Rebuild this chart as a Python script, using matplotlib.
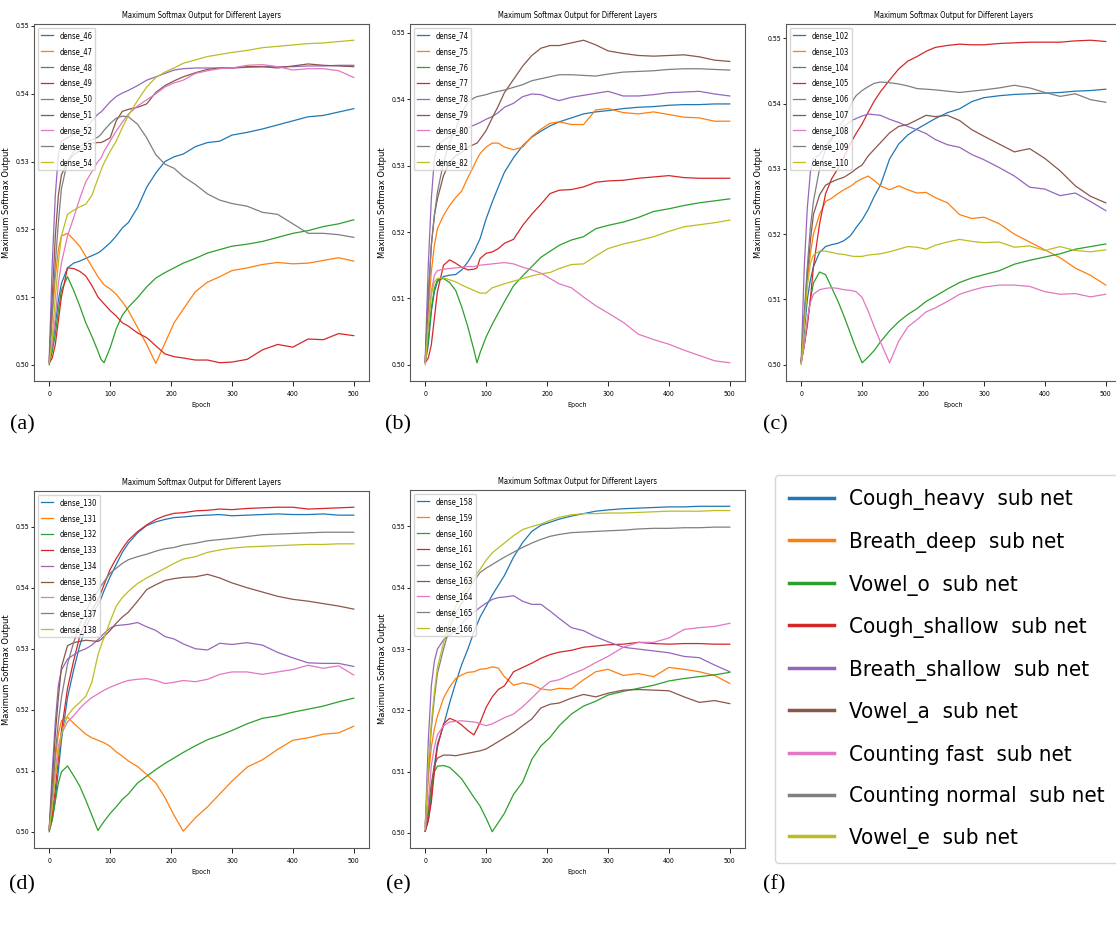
import matplotlib
matplotlib.use('Agg')
import matplotlib.pyplot as plt
from matplotlib import font_manager
from matplotlib.lines import Line2D

# common epoch grid (values at these epochs)
epochs = [0, 5, 10, 15, 20, 30, 40, 50, 60, 70, 80, 85,
          90, 100, 110, 120, 130, 145, 160, 175, 190, 205, 220, 240,
          260, 280, 300, 325, 350, 375, 400, 425, 450, 475, 500]

# ---- panel (a)
d46 = [0.5003, 0.5025, 0.5060, 0.5095, 0.5120, 0.5143, 0.5150, 0.5153, 0.5157, 0.5161, 0.5165, 0.5168,
       0.5172, 0.5180, 0.5190, 0.5202, 0.5210, 0.5232, 0.5262, 0.5283, 0.5300, 0.5307, 0.5311, 0.5322,
       0.5328, 0.5330, 0.5339, 0.5343, 0.5348, 0.5354, 0.5360, 0.5366, 0.5368, 0.5373, 0.5378]
d47 = [0.5005, 0.5070, 0.5130, 0.5170, 0.5190, 0.5194, 0.5185, 0.5175, 0.5160, 0.5145, 0.5130, 0.5124,
       0.5118, 0.5112, 0.5104, 0.5093, 0.5080, 0.5055, 0.5030, 0.5002, 0.5032, 0.5062, 0.5082, 0.5108,
       0.5122, 0.5130, 0.5139, 0.5143, 0.5148, 0.5151, 0.5149, 0.5150, 0.5154, 0.5158, 0.5153]
d48 = [0.5000, 0.5020, 0.5045, 0.5080, 0.5110, 0.5130, 0.5110, 0.5087, 0.5062, 0.5042, 0.5020, 0.5008,
       0.5003, 0.5025, 0.5053, 0.5073, 0.5085, 0.5099, 0.5115, 0.5128, 0.5136, 0.5143, 0.5150, 0.5157,
       0.5165, 0.5170, 0.5175, 0.5178, 0.5182, 0.5188, 0.5194, 0.5198, 0.5204, 0.5208, 0.5214]
d49 = [0.5003, 0.5010, 0.5030, 0.5065, 0.5100, 0.5143, 0.5142, 0.5138, 0.5131, 0.5117, 0.5100, 0.5095,
       0.5090, 0.5080, 0.5072, 0.5062, 0.5057, 0.5047, 0.5040, 0.5028, 0.5016, 0.5012, 0.5010, 0.5007,
       0.5007, 0.5003, 0.5004, 0.5008, 0.5022, 0.5030, 0.5026, 0.5038, 0.5037, 0.5046, 0.5043]
d50 = [0.5010, 0.5150, 0.5250, 0.5310, 0.5330, 0.5335, 0.5340, 0.5343, 0.5350, 0.5360, 0.5370, 0.5373,
       0.5378, 0.5388, 0.5396, 0.5401, 0.5405, 0.5412, 0.5420, 0.5425, 0.5430, 0.5435, 0.5437, 0.5438,
       0.5438, 0.5438, 0.5438, 0.5439, 0.5440, 0.5440, 0.5440, 0.5441, 0.5441, 0.5442, 0.5442]
d51 = [0.5005, 0.5100, 0.5190, 0.5250, 0.5280, 0.5300, 0.5310, 0.5316, 0.5322, 0.5327, 0.5328, 0.5328,
       0.5330, 0.5335, 0.5360, 0.5374, 0.5377, 0.5380, 0.5385, 0.5402, 0.5412, 0.5419, 0.5425, 0.5431,
       0.5436, 0.5438, 0.5438, 0.5440, 0.5440, 0.5438, 0.5441, 0.5444, 0.5442, 0.5441, 0.5440]
d52 = [0.5005, 0.5030, 0.5070, 0.5120, 0.5150, 0.5190, 0.5217, 0.5245, 0.5270, 0.5285, 0.5300, 0.5305,
       0.5315, 0.5330, 0.5345, 0.5358, 0.5370, 0.5382, 0.5391, 0.5400, 0.5410, 0.5416, 0.5420, 0.5430,
       0.5434, 0.5437, 0.5438, 0.5442, 0.5443, 0.5440, 0.5435, 0.5437, 0.5437, 0.5434, 0.5424]
d53 = [0.5003, 0.5080, 0.5150, 0.5210, 0.5260, 0.5300, 0.5315, 0.5322, 0.5328, 0.5332, 0.5336, 0.5340,
       0.5346, 0.5356, 0.5364, 0.5367, 0.5366, 0.5355, 0.5335, 0.5310, 0.5296, 0.5290, 0.5278, 0.5266,
       0.5252, 0.5243, 0.5238, 0.5234, 0.5225, 0.5222, 0.5208, 0.5194, 0.5194, 0.5192, 0.5188]
d54 = [0.5003, 0.5040, 0.5100, 0.5150, 0.5190, 0.5222, 0.5228, 0.5233, 0.5237, 0.5250, 0.5275, 0.5287,
       0.5298, 0.5315, 0.5330, 0.5350, 0.5368, 0.5390, 0.5410, 0.5424, 0.5432, 0.5438, 0.5445, 0.5450,
       0.5455, 0.5458, 0.5461, 0.5464, 0.5468, 0.5470, 0.5472, 0.5474, 0.5475, 0.5477, 0.5479]

# ---- panel (b)
d74 = [0.5003, 0.5030, 0.5080, 0.5110, 0.5125, 0.5133, 0.5135, 0.5136, 0.5143, 0.5155, 0.5170, 0.5180,
       0.5190, 0.5220, 0.5245, 0.5268, 0.5290, 0.5312, 0.5330, 0.5343, 0.5352, 0.5360, 0.5366, 0.5372,
       0.5378, 0.5381, 0.5383, 0.5386, 0.5388, 0.5389, 0.5391, 0.5392, 0.5392, 0.5393, 0.5393]
d75 = [0.5005, 0.5080, 0.5140, 0.5180, 0.5205, 0.5225, 0.5240, 0.5252, 0.5262, 0.5282, 0.5300, 0.5310,
       0.5318, 0.5328, 0.5334, 0.5334, 0.5328, 0.5324, 0.5328, 0.5344, 0.5355, 0.5364, 0.5366, 0.5362,
       0.5362, 0.5384, 0.5386, 0.5380, 0.5378, 0.5381, 0.5377, 0.5373, 0.5372, 0.5367, 0.5367]
d76 = [0.5005, 0.5040, 0.5085, 0.5115, 0.5128, 0.5130, 0.5124, 0.5112, 0.5087, 0.5057, 0.5022, 0.5003,
       0.5018, 0.5042, 0.5061, 0.5078, 0.5095, 0.5119, 0.5134, 0.5148, 0.5162, 0.5171, 0.5180, 0.5188,
       0.5193, 0.5205, 0.5210, 0.5215, 0.5222, 0.5231, 0.5235, 0.5240, 0.5244, 0.5247, 0.5250]
d77 = [0.5003, 0.5010, 0.5030, 0.5070, 0.5110, 0.5150, 0.5158, 0.5153, 0.5147, 0.5143, 0.5144, 0.5146,
       0.5160, 0.5168, 0.5170, 0.5175, 0.5183, 0.5189, 0.5210, 0.5227, 0.5242, 0.5258, 0.5263, 0.5264,
       0.5268, 0.5275, 0.5277, 0.5278, 0.5281, 0.5283, 0.5285, 0.5282, 0.5281, 0.5281, 0.5281]
d78 = [0.5010, 0.5150, 0.5250, 0.5310, 0.5330, 0.5338, 0.5344, 0.5349, 0.5353, 0.5357, 0.5361, 0.5363,
       0.5365, 0.5370, 0.5374, 0.5380, 0.5388, 0.5394, 0.5404, 0.5408, 0.5407, 0.5402, 0.5398, 0.5403,
       0.5406, 0.5409, 0.5412, 0.5405, 0.5405, 0.5407, 0.5410, 0.5411, 0.5412, 0.5408, 0.5405]
d79 = [0.5005, 0.5100, 0.5180, 0.5225, 0.5250, 0.5285, 0.5305, 0.5315, 0.5320, 0.5328, 0.5332, 0.5334,
       0.5340, 0.5353, 0.5372, 0.5390, 0.5410, 0.5430, 0.5450, 0.5466, 0.5477, 0.5481, 0.5481, 0.5485,
       0.5489, 0.5482, 0.5473, 0.5469, 0.5466, 0.5465, 0.5466, 0.5467, 0.5464, 0.5459, 0.5457]
d80 = [0.5005, 0.5060, 0.5110, 0.5135, 0.5142, 0.5144, 0.5145, 0.5146, 0.5147, 0.5148, 0.5148, 0.5149,
       0.5150, 0.5151, 0.5152, 0.5153, 0.5154, 0.5152, 0.5147, 0.5143, 0.5138, 0.5130, 0.5122, 0.5116,
       0.5102, 0.5089, 0.5078, 0.5064, 0.5046, 0.5038, 0.5031, 0.5022, 0.5014, 0.5006, 0.5003]
d81 = [0.5005, 0.5100, 0.5180, 0.5225, 0.5260, 0.5305, 0.5335, 0.5355, 0.5380, 0.5395, 0.5402, 0.5404,
       0.5405, 0.5407, 0.5410, 0.5412, 0.5414, 0.5418, 0.5422, 0.5428, 0.5431, 0.5434, 0.5437, 0.5437,
       0.5436, 0.5435, 0.5438, 0.5441, 0.5442, 0.5443, 0.5445, 0.5446, 0.5446, 0.5445, 0.5444]
d82 = [0.5000, 0.5060, 0.5105, 0.5125, 0.5130, 0.5131, 0.5128, 0.5125, 0.5120, 0.5116, 0.5112, 0.5110,
       0.5108, 0.5108, 0.5116, 0.5119, 0.5122, 0.5126, 0.5130, 0.5134, 0.5137, 0.5139, 0.5145, 0.5151,
       0.5152, 0.5164, 0.5175, 0.5182, 0.5187, 0.5193, 0.5201, 0.5208, 0.5211, 0.5214, 0.5218]

# ---- panel (c)
d102 = [0.5003, 0.5050, 0.5100, 0.5130, 0.5150, 0.5172, 0.5181, 0.5184, 0.5186, 0.5190, 0.5197, 0.5203,
        0.5210, 0.5222, 0.5238, 0.5258, 0.5275, 0.5315, 0.5338, 0.5352, 0.5361, 0.5369, 0.5377, 0.5386,
        0.5392, 0.5403, 0.5409, 0.5412, 0.5414, 0.5415, 0.5416, 0.5417, 0.5419, 0.5420, 0.5422]
d103 = [0.5005, 0.5070, 0.5130, 0.5170, 0.5200, 0.5230, 0.5250, 0.5255, 0.5262, 0.5268, 0.5273, 0.5276,
        0.5280, 0.5285, 0.5289, 0.5282, 0.5274, 0.5268, 0.5274, 0.5268, 0.5263, 0.5264, 0.5256, 0.5248,
        0.5230, 0.5224, 0.5226, 0.5216, 0.5200, 0.5188, 0.5176, 0.5164, 0.5148, 0.5137, 0.5122]
d104 = [0.5003, 0.5030, 0.5065, 0.5100, 0.5125, 0.5142, 0.5138, 0.5118, 0.5098, 0.5075, 0.5050, 0.5037,
        0.5025, 0.5003, 0.5012, 0.5022, 0.5035, 0.5052, 0.5066, 0.5077, 0.5086, 0.5097, 0.5105, 0.5116,
        0.5126, 0.5133, 0.5138, 0.5144, 0.5154, 0.5160, 0.5165, 0.5170, 0.5177, 0.5181, 0.5185]
d105 = [0.5005, 0.5030, 0.5060, 0.5100, 0.5150, 0.5215, 0.5262, 0.5285, 0.5300, 0.5318, 0.5337, 0.5346,
        0.5354, 0.5369, 0.5387, 0.5404, 0.5418, 0.5436, 0.5453, 0.5465, 0.5472, 0.5480, 0.5486, 0.5489,
        0.5491, 0.5490, 0.5490, 0.5492, 0.5493, 0.5494, 0.5494, 0.5494, 0.5496, 0.5497, 0.5495]
d106 = [0.5008, 0.5150, 0.5240, 0.5295, 0.5315, 0.5322, 0.5335, 0.5348, 0.5358, 0.5365, 0.5372, 0.5375,
        0.5377, 0.5381, 0.5384, 0.5383, 0.5382, 0.5376, 0.5371, 0.5365, 0.5360, 0.5354, 0.5345, 0.5337,
        0.5333, 0.5322, 0.5314, 0.5302, 0.5289, 0.5272, 0.5269, 0.5259, 0.5263, 0.5250, 0.5236]
d107 = [0.5005, 0.5070, 0.5140, 0.5190, 0.5230, 0.5260, 0.5275, 0.5280, 0.5284, 0.5287, 0.5293, 0.5296,
        0.5300, 0.5306, 0.5320, 0.5330, 0.5340, 0.5355, 0.5365, 0.5368, 0.5375, 0.5382, 0.5380, 0.5382,
        0.5374, 0.5360, 0.5350, 0.5338, 0.5326, 0.5331, 0.5316, 0.5297, 0.5274, 0.5258, 0.5248]
d108 = [0.5003, 0.5030, 0.5070, 0.5095, 0.5108, 0.5115, 0.5117, 0.5118, 0.5117, 0.5115, 0.5114, 0.5113,
        0.5112, 0.5103, 0.5082, 0.5058, 0.5035, 0.5003, 0.5036, 0.5058, 0.5069, 0.5081, 0.5087, 0.5097,
        0.5108, 0.5114, 0.5119, 0.5122, 0.5122, 0.5120, 0.5112, 0.5108, 0.5109, 0.5104, 0.5108]
d109 = [0.5005, 0.5080, 0.5150, 0.5210, 0.5250, 0.5300, 0.5330, 0.5345, 0.5362, 0.5375, 0.5395, 0.5405,
        0.5412, 0.5420, 0.5426, 0.5431, 0.5433, 0.5432, 0.5430, 0.5427, 0.5423, 0.5422, 0.5421, 0.5419,
        0.5417, 0.5419, 0.5421, 0.5424, 0.5428, 0.5424, 0.5417, 0.5411, 0.5415, 0.5406, 0.5402]
d110 = [0.5000, 0.5060, 0.5120, 0.5155, 0.5168, 0.5174, 0.5174, 0.5172, 0.5170, 0.5169, 0.5167, 0.5166,
        0.5166, 0.5166, 0.5168, 0.5169, 0.5170, 0.5173, 0.5177, 0.5181, 0.5180, 0.5177, 0.5183, 0.5188,
        0.5192, 0.5189, 0.5187, 0.5188, 0.5180, 0.5182, 0.5175, 0.5181, 0.5175, 0.5173, 0.5176]

# ---- panel (d)
d130 = [0.5003, 0.5020, 0.5055, 0.5100, 0.5150, 0.5220, 0.5265, 0.5305, 0.5335, 0.5355, 0.5372, 0.5382,
        0.5395, 0.5418, 0.5438, 0.5458, 0.5473, 0.5490, 0.5502, 0.5508, 0.5512, 0.5515, 0.5516, 0.5518,
        0.5519, 0.5520, 0.5518, 0.5519, 0.5520, 0.5521, 0.5520, 0.5520, 0.5521, 0.5519, 0.5519]
d131 = [0.5005, 0.5060, 0.5120, 0.5160, 0.5182, 0.5188, 0.5178, 0.5169, 0.5160, 0.5154, 0.5150, 0.5148,
        0.5146, 0.5140, 0.5131, 0.5124, 0.5116, 0.5107, 0.5094, 0.5080, 0.5056, 0.5027, 0.5001, 0.5023,
        0.5041, 0.5062, 0.5083, 0.5106, 0.5118, 0.5135, 0.5150, 0.5154, 0.5160, 0.5162, 0.5173]
d132 = [0.5000, 0.5020, 0.5050, 0.5080, 0.5098, 0.5108, 0.5092, 0.5075, 0.5052, 0.5027, 0.5002, 0.5010,
        0.5017, 0.5030, 0.5041, 0.5053, 0.5062, 0.5080, 0.5091, 0.5102, 0.5112, 0.5121, 0.5130, 0.5141,
        0.5151, 0.5158, 0.5166, 0.5177, 0.5186, 0.5190, 0.5196, 0.5201, 0.5206, 0.5213, 0.5219]
d133 = [0.5003, 0.5030, 0.5070, 0.5120, 0.5165, 0.5235, 0.5280, 0.5320, 0.5345, 0.5363, 0.5380, 0.5392,
        0.5405, 0.5430, 0.5448, 0.5464, 0.5478, 0.5492, 0.5503, 0.5512, 0.5518, 0.5522, 0.5523, 0.5526,
        0.5527, 0.5529, 0.5528, 0.5530, 0.5531, 0.5532, 0.5532, 0.5529, 0.5530, 0.5531, 0.5532]
d134 = [0.5005, 0.5100, 0.5180, 0.5240, 0.5265, 0.5283, 0.5290, 0.5296, 0.5300, 0.5306, 0.5315, 0.5320,
        0.5325, 0.5334, 0.5338, 0.5339, 0.5340, 0.5343, 0.5336, 0.5330, 0.5320, 0.5316, 0.5308, 0.5300,
        0.5298, 0.5309, 0.5307, 0.5310, 0.5306, 0.5294, 0.5285, 0.5277, 0.5276, 0.5276, 0.5271]
d135 = [0.5005, 0.5080, 0.5160, 0.5220, 0.5270, 0.5305, 0.5310, 0.5312, 0.5314, 0.5313, 0.5312, 0.5315,
        0.5320, 0.5330, 0.5342, 0.5352, 0.5360, 0.5378, 0.5397, 0.5405, 0.5412, 0.5415, 0.5417, 0.5418,
        0.5422, 0.5416, 0.5408, 0.5400, 0.5393, 0.5386, 0.5381, 0.5378, 0.5374, 0.5370, 0.5365]
d136 = [0.5005, 0.5050, 0.5100, 0.5140, 0.5160, 0.5180, 0.5190, 0.5202, 0.5212, 0.5220, 0.5226, 0.5229,
        0.5232, 0.5237, 0.5241, 0.5245, 0.5248, 0.5250, 0.5251, 0.5248, 0.5243, 0.5245, 0.5248, 0.5246,
        0.5250, 0.5258, 0.5262, 0.5262, 0.5258, 0.5262, 0.5266, 0.5273, 0.5268, 0.5272, 0.5257]
d137 = [0.5005, 0.5060, 0.5130, 0.5180, 0.5220, 0.5275, 0.5310, 0.5340, 0.5362, 0.5380, 0.5395, 0.5403,
        0.5410, 0.5424, 0.5432, 0.5440, 0.5446, 0.5451, 0.5455, 0.5460, 0.5464, 0.5466, 0.5470, 0.5473,
        0.5477, 0.5479, 0.5481, 0.5484, 0.5487, 0.5488, 0.5489, 0.5490, 0.5491, 0.5491, 0.5491]
d138 = [0.5005, 0.5040, 0.5090, 0.5130, 0.5160, 0.5190, 0.5203, 0.5212, 0.5222, 0.5245, 0.5290, 0.5305,
        0.5318, 0.5345, 0.5370, 0.5384, 0.5394, 0.5407, 0.5416, 0.5424, 0.5432, 0.5440, 0.5447, 0.5451,
        0.5458, 0.5462, 0.5465, 0.5467, 0.5468, 0.5469, 0.5470, 0.5471, 0.5471, 0.5472, 0.5472]

# ---- panel (e)
d158 = [0.5003, 0.5020, 0.5060, 0.5110, 0.5145, 0.5175, 0.5212, 0.5245, 0.5275, 0.5300, 0.5328, 0.5340,
        0.5352, 0.5370, 0.5388, 0.5404, 0.5420, 0.5450, 0.5474, 0.5492, 0.5502, 0.5507, 0.5512, 0.5517,
        0.5521, 0.5525, 0.5527, 0.5529, 0.5530, 0.5531, 0.5532, 0.5532, 0.5533, 0.5533, 0.5533]
d159 = [0.5015, 0.5090, 0.5140, 0.5170, 0.5190, 0.5220, 0.5238, 0.5252, 0.5258, 0.5262, 0.5263, 0.5265,
        0.5267, 0.5268, 0.5271, 0.5269, 0.5255, 0.5241, 0.5245, 0.5242, 0.5235, 0.5233, 0.5236, 0.5235,
        0.5250, 0.5263, 0.5267, 0.5257, 0.5260, 0.5255, 0.5270, 0.5267, 0.5263, 0.5257, 0.5244]
d160 = [0.5003, 0.5030, 0.5070, 0.5100, 0.5109, 0.5110, 0.5107, 0.5098, 0.5088, 0.5073, 0.5058, 0.5051,
        0.5044, 0.5024, 0.5002, 0.5017, 0.5032, 0.5063, 0.5083, 0.5120, 0.5142, 0.5156, 0.5175, 0.5194,
        0.5207, 0.5215, 0.5225, 0.5231, 0.5236, 0.5241, 0.5248, 0.5252, 0.5255, 0.5258, 0.5262]
d161 = [0.5003, 0.5020, 0.5050, 0.5100, 0.5140, 0.5178, 0.5187, 0.5183, 0.5176, 0.5167, 0.5160, 0.5170,
        0.5180, 0.5205, 0.5222, 0.5234, 0.5240, 0.5263, 0.5270, 0.5277, 0.5285, 0.5291, 0.5295, 0.5298,
        0.5303, 0.5305, 0.5307, 0.5308, 0.5311, 0.5309, 0.5308, 0.5309, 0.5309, 0.5308, 0.5308]
d162 = [0.5010, 0.5150, 0.5240, 0.5280, 0.5300, 0.5315, 0.5323, 0.5330, 0.5342, 0.5352, 0.5360, 0.5364,
        0.5368, 0.5375, 0.5381, 0.5384, 0.5385, 0.5387, 0.5378, 0.5373, 0.5373, 0.5362, 0.5350, 0.5335,
        0.5330, 0.5320, 0.5312, 0.5303, 0.5300, 0.5297, 0.5294, 0.5288, 0.5286, 0.5274, 0.5263]
d163 = [0.5003, 0.5040, 0.5080, 0.5110, 0.5122, 0.5127, 0.5127, 0.5126, 0.5128, 0.5130, 0.5132, 0.5133,
        0.5134, 0.5137, 0.5143, 0.5149, 0.5155, 0.5164, 0.5175, 0.5186, 0.5204, 0.5210, 0.5212, 0.5220,
        0.5226, 0.5222, 0.5228, 0.5233, 0.5234, 0.5233, 0.5232, 0.5222, 0.5213, 0.5216, 0.5211]
d164 = [0.5005, 0.5050, 0.5110, 0.5140, 0.5160, 0.5175, 0.5181, 0.5182, 0.5183, 0.5182, 0.5181, 0.5180,
        0.5178, 0.5175, 0.5178, 0.5183, 0.5188, 0.5194, 0.5206, 0.5220, 0.5235, 0.5247, 0.5250, 0.5259,
        0.5267, 0.5278, 0.5288, 0.5303, 0.5311, 0.5311, 0.5318, 0.5332, 0.5335, 0.5337, 0.5342]
d165 = [0.5008, 0.5100, 0.5170, 0.5220, 0.5260, 0.5300, 0.5335, 0.5358, 0.5375, 0.5395, 0.5412, 0.5418,
        0.5425, 0.5432, 0.5438, 0.5444, 0.5450, 0.5458, 0.5466, 0.5473, 0.5479, 0.5484, 0.5487, 0.5490,
        0.5491, 0.5492, 0.5493, 0.5494, 0.5496, 0.5497, 0.5497, 0.5498, 0.5498, 0.5499, 0.5499]
d166 = [0.5008, 0.5110, 0.5180, 0.5230, 0.5270, 0.5310, 0.5345, 0.5370, 0.5388, 0.5405, 0.5418, 0.5424,
        0.5430, 0.5445, 0.5457, 0.5465, 0.5473, 0.5485, 0.5495, 0.5500, 0.5504, 0.5510, 0.5515, 0.5519,
        0.5521, 0.5521, 0.5522, 0.5522, 0.5523, 0.5524, 0.5525, 0.5525, 0.5525, 0.5526, 0.5526]

sub_nets = ['Cough_heavy  sub net', 'Breath_deep  sub net', 'Vowel_o  sub net',
            'Cough_shallow  sub net', 'Breath_shallow  sub net', 'Vowel_a  sub net',
            'Counting fast  sub net', 'Counting normal  sub net', 'Vowel_e  sub net']
xticks = [0, 100, 200, 300, 400, 500]


# narrow font if there is one (the reference text is squeezed)
fonts = font_manager.fontManager.ttflist
if any(f.name == 'DejaVu Sans' and f.stretch == 'condensed' for f in fonts):
    plt.rcParams['font.family'] = ['DejaVu Sans']
    plt.rcParams['font.stretch'] = 'condensed'
elif any(f.name == 'Liberation Sans Narrow' for f in fonts):
    plt.rcParams['font.family'] = ['Liberation Sans Narrow', 'DejaVu Sans']

colors = plt.rcParams['axes.prop_cycle'].by_key()['color']

W, H = 1116, 934
fig = plt.figure(figsize=(W / 100, H / 100), dpi=100)


def box(left, top, right, bottom):
    return [left / W, 1 - bottom / H, (right - left) / W, (bottom - top) / H]


panels = [
    (box(34, 24, 369, 381), 46, [d46, d47, d48, d49, d50, d51, d52, d53, d54]),
    (box(410, 24, 745, 381), 74, [d74, d75, d76, d77, d78, d79, d80, d81, d82]),
    (box(786, 24, 1121, 381), 102, [d102, d103, d104, d105, d106, d107, d108, d109, d110]),
    (box(34, 491, 369, 848), 130, [d130, d131, d132, d133, d134, d135, d136, d137, d138]),
    (box(410, 490, 745, 848), 158, [d158, d159, d160, d161, d162, d163, d164, d165, d166]),
]

for rect, first, series in panels:
    ax = fig.add_axes(rect)
    for i, vals in enumerate(series):
        ax.plot(epochs, vals, lw=0.9, color=colors[i], label='dense_%d' % (first + i))
    ax.set_xticks(xticks)
    ax.set_title('Maximum Softmax Output for Different Layers', fontsize=5.5, pad=4)
    ax.set_xlabel('Epoch', fontsize=5)
    ax.set_ylabel('Maximum Softmax Output', fontsize=6, fontstretch='normal')
    ax.xaxis.set_label_coords(0.5, -0.058)
    ax.yaxis.set_label_coords(-0.07, 0.5)
    ax.tick_params(axis='both', labelsize=5, width=0.6)
    ax.tick_params(axis='y', length=2, pad=1.5)
    for s in ax.spines.values():
        s.set_linewidth(0.8)
        s.set_color('0.35')
    ax.legend(loc='upper left', fontsize=5.5, labelspacing=0.9, handlelength=1.6,
              handletextpad=0.8, borderaxespad=0.5)

# panel letters
for lab, x, y in [('(a)', 22, 425), ('(b)', 398, 425), ('(c)', 775, 425),
                  ('(d)', 22, 885), ('(e)', 398, 885), ('(f)', 774, 885)]:
    fig.text(x / W, 1 - y / H, lab, ha='center', va='center', fontsize=16,
             family='Liberation Serif', fontstretch='normal')

# (f) the shared legend
handles = [Line2D([], [], color=colors[i], lw=2.5) for i in range(9)]
fig.legend(handles, sub_nets, loc='upper left', bbox_to_anchor=(775 / W, 1 - 475 / H),
           borderaxespad=0, fontsize=16, labelspacing=0.97, borderpad=0.65,
           handlelength=2.0, handletextpad=0.7)

fig.savefig('out.png', dpi=100)
